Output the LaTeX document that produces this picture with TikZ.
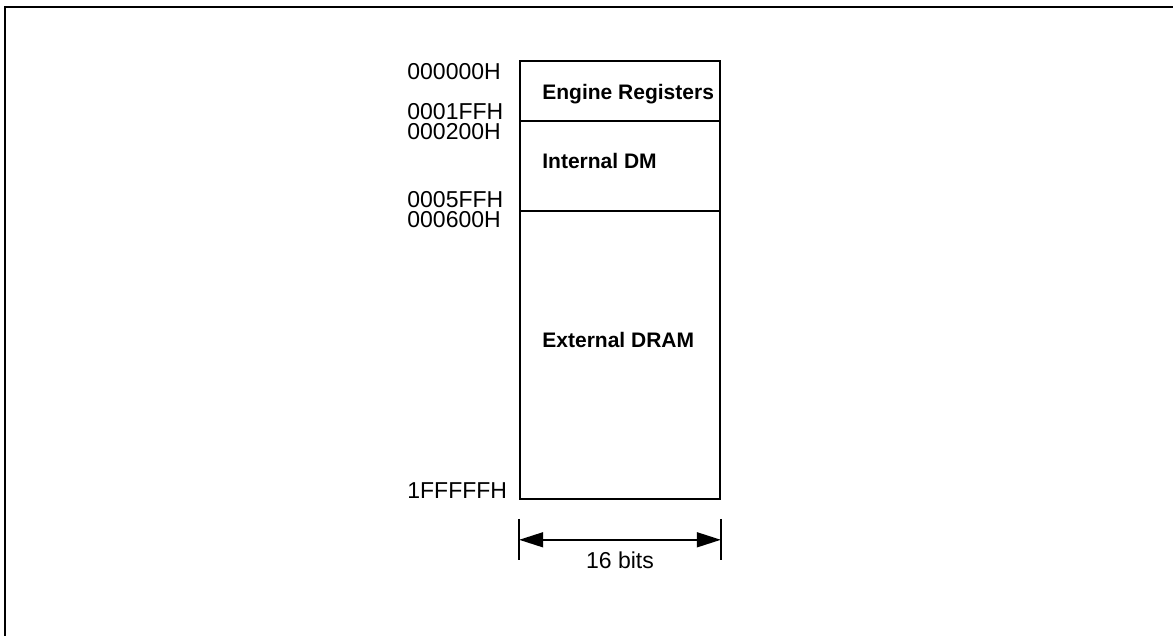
\documentclass[tikz,border=0pt]{standalone}
\usepackage{fontspec}
\setmainfont{Liberation Sans}
\usetikzlibrary{arrows.meta,positioning,calc}

\begin{document}
\begin{tikzpicture}[x=0.5pt,y=-0.5pt,
  >={Triangle[length=12pt,width=7.5pt]},
  region/.style={draw, line width=0.8pt, minimum width=100pt, inner sep=0pt},
  addr/.style={font=\fontsize{11.5}{13}\selectfont, inner sep=0pt, anchor=base west},
  regname/.style={font=\fontsize{10.5}{12}\selectfont\bfseries, inner sep=0pt, anchor=base west},
  dimline/.style={line width=0.8pt},
]
\useasboundingbox (0,0) rectangle (1173,636);
% frame, only its top and left sides are in view
\draw[line width=1pt] (5,636) -- (5,7) -- (1173,7);
% memory map, top to bottom
\node[region, minimum height=30pt] (reg) at (620,91) {};
\node[region, minimum height=45pt] (idm) at (620,166) {};
\node[region, minimum height=144pt] (dram) at (620,355) {};
\node[regname] (regtxt) at (542,100) {Engine Registers};
\node[regname] (idmtxt) at (542,169) {Internal DM};
\node[regname] (dramtxt) at (542,348) {External DRAM};
% addresses on the left
\node[addr] (a0) at (407,80) {000000H};
\node[addr] (a1) at (407,120) {0001FFH};
\node[addr] (a2) at (407,140) {000200H};
\node[addr] (a3) at (407,208) {0005FFH};
\node[addr] (a4) at (407,228) {000600H};
\node[addr] (a5) at (407,498) {1FFFFFH};
% width of the map
\coordinate (wl) at ($(dram.south west)+(0,40)$);
\coordinate (wr) at ($(dram.south east)+(0,40)$);
\draw[dimline] ($(wl)+(0,-21)$) -- ($(wl)+(0,20)$);
\draw[dimline] ($(wr)+(0,-21)$) -- ($(wr)+(0,20)$);
\draw[<->, dimline] (wl) -- (wr);
\node[addr, anchor=base] (bits) at ($(wl)!0.5!(wr)+(0,29)$) {16 bits};
\end{tikzpicture}
\end{document}
